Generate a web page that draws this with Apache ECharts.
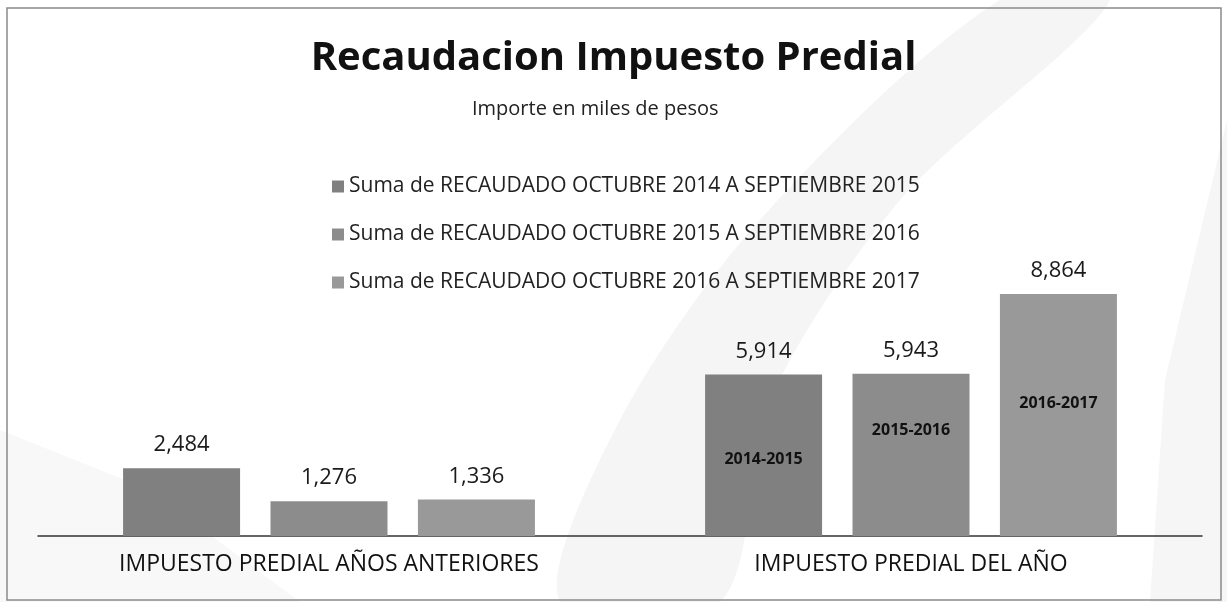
<!DOCTYPE html>
<html><head><meta charset="utf-8">
<script src="https://cdn.jsdelivr.net/npm/echarts@6/dist/echarts.min.js"></script>
<style>html,body{margin:0;padding:0;background:#fff}#c{width:1227px;height:602px}</style>
</head><body><div id="c"></div>
<script>
const categories = ['IMPUESTO PREDIAL AÑOS ANTERIORES', 'IMPUESTO PREDIAL DEL AÑO'];
const seriesNames = [
  'Suma de RECAUDADO OCTUBRE 2014 A SEPTIEMBRE 2015',
  'Suma de RECAUDADO OCTUBRE 2015 A SEPTIEMBRE 2016',
  'Suma de RECAUDADO OCTUBRE 2016 A SEPTIEMBRE 2017'
];
const values2014_2015 = [2484, 5914];
const values2015_2016 = [1276, 5943];
const values2016_2017 = [1336, 8864];
const periodLabels = ['2014-2015', '2015-2016', '2016-2017'];
const periodLabelValues = [2800, 3850, 4870];
const colors = ['#808080', '#8c8c8c', '#999999'];

const FONT = '"Open Sans", Lato, sans-serif';
const allValues = [values2014_2015, values2015_2016, values2016_2017];

const chart = echarts.init(document.getElementById('c'), null, {renderer: 'canvas'});
const series = allValues.map((vals, i) => ({
  name: seriesNames[i],
  type: 'bar',
  data: vals,
  barWidth: 117,
  barGap: '26%',
  itemStyle: {color: colors[i]},
  label: {
    show: true, position: 'top', distance: 12,
    fontFamily: FONT, fontSize: 22, color: '#1a1a1a',
    formatter: p => p.value.toLocaleString('en-US')
  },
  markPoint: {
    silent: true,
    symbol: 'circle', symbolSize: 1,
    itemStyle: {color: 'rgba(0,0,0,0)'},
    label: {show: true, position: 'inside', fontFamily: FONT, fontSize: 16, fontWeight: 'bold', color: '#111',
      formatter: () => periodLabels[i]},
    data: [{coord: [categories[1], periodLabelValues[i]]}]
  }
}));

chart.setOption({
  backgroundColor: '#fff',
  animation: false,
  graphic: [
    {type: 'polygon', silent: true, z: -10,
      shape: {points: [[560,602],[620,420],[760,220],[1000,0],[1110,0],[900,200],[770,400],[720,602]], smooth: 0.3},
      style: {fill: '#f5f5f5'}},
    {type: 'polygon', silent: true, z: -10,
      shape: {points: [[1150,602],[1165,380],[1227,120],[1227,602]]},
      style: {fill: '#f6f6f6'}},
    {type: 'polygon', silent: true, z: -10,
      shape: {points: [[0,602],[0,430],[150,490],[300,602]]},
      style: {fill: '#f8f8f8'}},
    {type: 'rect', silent: true, z: 10,
      shape: {x: 7, y: 8, width: 1214, height: 592},
      style: {fill: 'none', stroke: '#8a8a8a', lineWidth: 1.5}}
  ],
  title: [
    {text: 'Recaudacion Impuesto Predial', left: 'center', top: 34,
      textStyle: {fontFamily: FONT, fontSize: 40, fontWeight: 'bold', color: '#111'}},
    {text: 'Importe en miles de pesos', left: 467, top: 94,
      textStyle: {fontFamily: FONT, fontSize: 20, fontWeight: 'normal', color: '#222'}}
  ],
  legend: {
    orient: 'vertical', left: 327, top: 171, itemGap: 27,
    itemWidth: 12, itemHeight: 12, icon: 'rect',
    textStyle: {fontFamily: FONT, fontSize: 21, color: '#222'},
    data: seriesNames
  },
  grid: {left: 38, right: 25, top: 263, bottom: 66, containLabel: false},
  xAxis: {
    type: 'category', data: categories,
    axisLine: {show: true, lineStyle: {color: '#333', width: 1.5}},
    axisTick: {show: false},
    axisLabel: {margin: 17, fontFamily: FONT, fontSize: 23, color: '#111', interval: 0}
  },
  yAxis: {type: 'value', min: 0, max: 10000, show: false, splitLine: {show: false}},
  series: series
});
</script></body></html>
